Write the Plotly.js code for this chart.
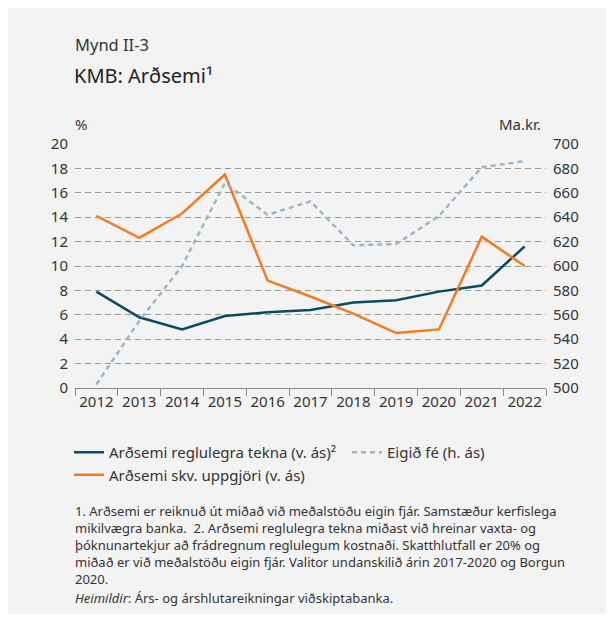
<!DOCTYPE html>
<html>
<head>
<meta charset="utf-8">
<script src="https://cdn.plot.ly/plotly-3.0.1.min.js"></script>
<style>html,body{margin:0;padding:0;background:#fff;}#chart{width:612px;height:618px;}</style>
</head>
<body>
<div id="chart"></div>
<script>
const years = ['2012','2013','2014','2015','2016','2017','2018','2019','2020','2021','2022'];
const regularReturn = [7.9, 5.8, 4.8, 5.9, 6.2, 6.4, 7.0, 7.2, 7.9, 8.4, 11.6];
const reportedReturn = [14.1, 12.3, 14.3, 17.5, 8.8, 7.5, 6.1, 4.5, 4.8, 12.4, 10.0];
const equity = [503, 555, 600, 668, 642, 653, 617, 618, 641, 681, 686];
const leftTicks = [0,2,4,6,8,10,12,14,16,18,20];
const rightTicks = [500,520,540,560,580,600,620,640,660,680,700];

const font = 'Noto Sans, Open Sans, sans-serif';
const txt = '#333333';

const traces = [
  {x: years, y: equity, type: 'scatter', mode: 'lines', name: 'Eigið fé (h. ás)', yaxis: 'y2',
   line: {color: '#9db6c5', width: 2.5, dash: '5px,4px'}, legend: 'legend2'},
  {x: years, y: regularReturn, type: 'scatter', mode: 'lines', name: 'Arðsemi reglulegra tekna (v. ás)²',
   line: {color: '#0b4a63', width: 2.5}, legendrank: 1},
  {x: years, y: reportedReturn, type: 'scatter', mode: 'lines', name: 'Arðsemi skv. uppgjöri (v. ás)',
   line: {color: '#f47b20', width: 2.5}, legendrank: 2}
];

const L = 75, R = 546, T = 144, B = 388, W = 612, H = 618;
const px = v => (v - L) / (R - L);
const py = v => (B - v) / (B - T);

const tickFont = {family: font, size: 15, color: txt};
const legFont = {family: font, size: 15, color: txt};
const layout = {
  width: W, height: H,
  margin: {l: L, r: W - R, t: T, b: H - B, pad: 0},
  paper_bgcolor: '#ffffff', plot_bgcolor: 'rgba(0,0,0,0)',
  font: {family: font, size: 15, color: txt},
  showlegend: true,
  legend: {orientation: 'v', x: px(69), y: py(436), xanchor: 'left', yanchor: 'top',
           font: legFont, bgcolor: 'rgba(0,0,0,0)', traceorder: 'normal', tracegroupgap: 0},
  legend2: {orientation: 'v', x: px(347), y: py(436), xanchor: 'left', yanchor: 'top',
           font: legFont, bgcolor: 'rgba(0,0,0,0)'},
  xaxis: {type: 'category', range: [-0.5, 10.5], tickson: 'boundaries', ticks: 'outside', ticklen: 7, tickcolor: '#888',
          showline: true, linecolor: '#888', linewidth: 1, showgrid: false, zeroline: false,
          tickangle: 0, tickfont: tickFont, fixedrange: true},
  yaxis: {range: [0, 20], tickvals: leftTicks, ticktext: leftTicks.map(String), showgrid: true,
          gridcolor: '#9a9a9a', griddash: '6px,4px', gridwidth: 1, zeroline: false, showline: false,
          ticks: '', ticklabelstandoff: 6, tickfont: tickFont},
  yaxis2: {range: [500, 700], tickvals: rightTicks, ticktext: rightTicks.map(String), overlaying: 'y',
           side: 'right', showgrid: false, zeroline: false, showline: false, ticks: '', ticklabelstandoff: 6,
           tickfont: tickFont},
  shapes: [
    {type: 'rect', xref: 'paper', yref: 'paper', x0: px(8), x1: px(606), y0: py(614), y1: py(8),
     fillcolor: '#f3f3f3', line: {width: 0}, layer: 'below'}
  ],
  annotations: [
    {xref: 'paper', yref: 'paper', x: px(73), y: py(44), xanchor: 'left', yanchor: 'middle', showarrow: false,
     text: 'Mynd II-3', font: {family: font, size: 16.5, color: txt}},
    {xref: 'paper', yref: 'paper', x: px(72), y: py(76), xanchor: 'left', yanchor: 'middle', showarrow: false,
     text: 'KMB: Arðsemi¹', font: {family: font, size: 20, color: '#222'}},
    {xref: 'paper', yref: 'paper', x: px(73), y: py(124), xanchor: 'left', yanchor: 'middle', showarrow: false,
     text: '%', font: {family: font, size: 15, color: txt}},
    {xref: 'paper', yref: 'paper', x: px(543), y: py(124), xanchor: 'right', yanchor: 'middle', showarrow: false,
     text: 'Ma.kr.', font: {family: font, size: 15, color: txt}},
    {xref: 'paper', yref: 'paper', x: px(73), y: py(500), xanchor: 'left', yanchor: 'top', showarrow: false, align: 'left',
     text: '1. Arðsemi er reiknuð út miðað við meðalstöðu eigin fjár. Samstæður kerfislega<br>' +
           'mikilvægra banka.  2. Arðsemi reglulegra tekna miðast við hreinar vaxta- og<br>' +
           'þóknunartekjur að frádregnum reglulegum kostnaði. Skatthlutfall er 20% og<br>' +
           'miðað er við meðalstöðu eigin fjár. Valitor undanskilið árin 2017-2020 og Borgun<br>' +
           '2020.',
     font: {family: font, size: 13, color: txt}},
    {xref: 'paper', yref: 'paper', x: px(73), y: py(598), xanchor: 'left', yanchor: 'middle', showarrow: false, align: 'left',
     text: '<i>Heimildir</i>: Árs- og árshlutareikningar viðskiptabanka.',
     font: {family: font, size: 13, color: txt}}
  ]
};

Plotly.newPlot('chart', traces, layout, {displayModeBar: false, staticPlot: true});
</script>
</body>
</html>
